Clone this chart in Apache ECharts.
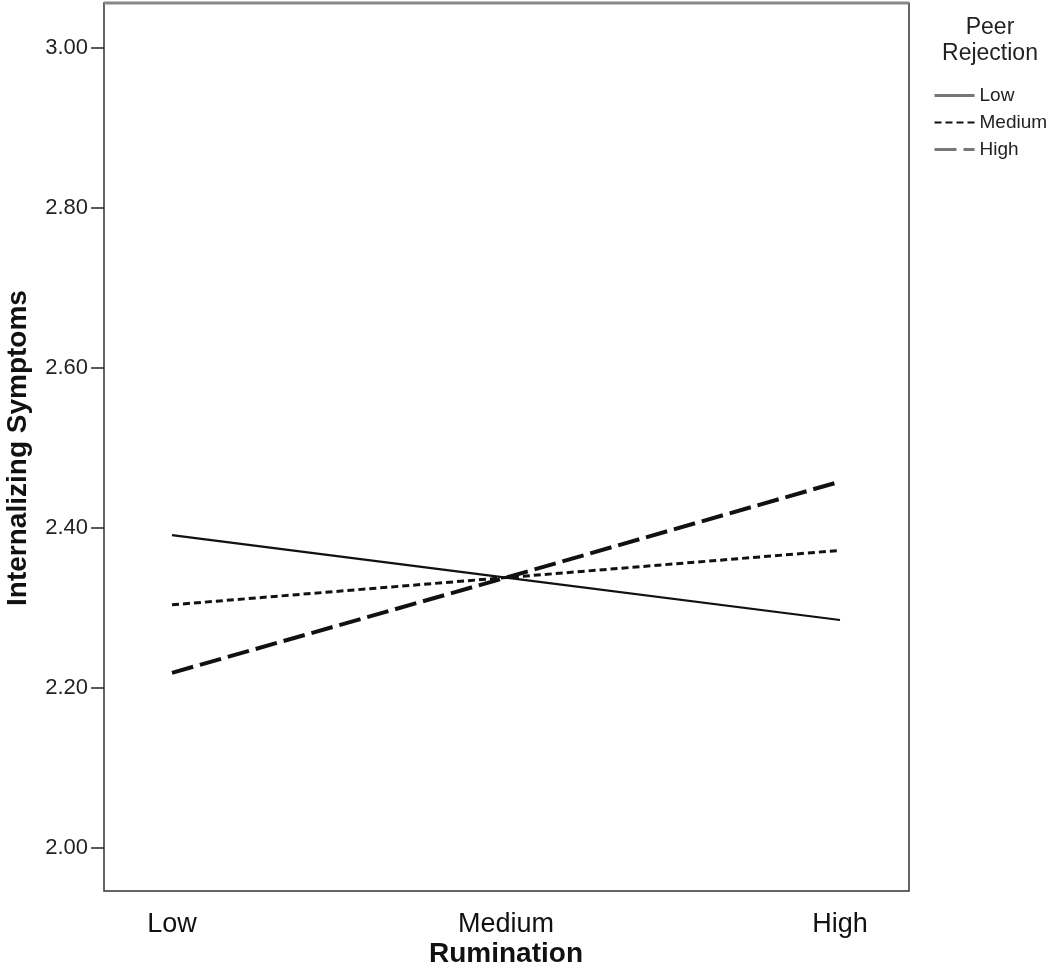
<!DOCTYPE html>
<html><head><meta charset="utf-8">
<script src="https://cdn.jsdelivr.net/npm/echarts@6/dist/echarts.min.js"></script>
<style>html,body{margin:0;padding:0;background:#fff}#c{width:1050px;height:964px}</style>
</head><body><div id="c"></div>
<script>
const categories = ['Low', 'Medium', 'High'];
const yTicks = [2.0, 2.2, 2.4, 2.6, 2.8, 3.0];
const lowPeer = [2.391, 2.338, 2.285];
const mediumPeer = [2.304, 2.338, 2.372];
const highPeer = [2.219, 2.338, 2.458];
const seriesNames = ['Low', 'Medium', 'High'];

const font = 'Liberation Sans, Arial, sans-serif';
const chart = echarts.init(document.getElementById('c'));
chart.setOption({
  animation: false,
  backgroundColor: '#fff',
  grid: [
    {left: 104, right: 141, top: 3, bottom: 73, show: true, borderColor: '#333', borderWidth: 1.5,
     backgroundColor: 'transparent', outerBoundsMode: 'none', containLabel: false},
    {left: 172, right: 210, top: 48, bottom: 116, outerBoundsMode: 'none', containLabel: false}
  ],
  xAxis: [
    {gridIndex: 0, type: 'value', show: false, min: 0, max: 1},
    {gridIndex: 1, type: 'category', data: categories, boundaryGap: false,
     axisLine: {show: false}, axisTick: {show: false}, splitLine: {show: false},
     axisLabel: {margin: 63, fontSize: 27, color: '#111', fontFamily: font},
     name: 'Rumination', nameLocation: 'middle', nameGap: 92, nameMoveOverlap: false,
     nameTextStyle: {fontSize: 28, fontWeight: 'bold', color: '#111', fontFamily: font}}
  ],
  yAxis: [
    {gridIndex: 0, type: 'value', show: false, min: 0, max: 1},
    {gridIndex: 1, type: 'value', min: yTicks[0], max: yTicks[yTicks.length - 1], interval: 0.2,
     offset: 68,
     axisLine: {show: false},
     axisTick: {show: true, length: 13, lineStyle: {color: '#222', width: 1.5}},
     splitLine: {show: false},
     axisLabel: {margin: 16, fontSize: 22, color: '#222', fontFamily: font, formatter: v => v.toFixed(2)},
     name: 'Internalizing Symptoms', nameLocation: 'middle', nameGap: 72, nameMoveOverlap: false,
     nameTextStyle: {fontSize: 28, fontWeight: 'bold', color: '#111', fontFamily: font}}
  ],
  legend: {
    orient: 'vertical', left: 933, top: 86, padding: 0, itemWidth: 40, itemHeight: 14, itemGap: 8,
    textStyle: {fontSize: 19, color: '#222', fontFamily: font},
    itemStyle: {opacity: 0},
    data: [
      {name: seriesNames[0], lineStyle: {color: '#777', width: 3}},
      {name: seriesNames[1], lineStyle: {color: '#111', width: 2}},
      {name: seriesNames[2], lineStyle: {color: '#777', width: 3}}
    ]
  },
  graphic: [
    {type: 'line', shape: {x1: 104, y1: 3, x2: 909, y2: 3}, style: {stroke: '#888', lineWidth: 3}},
    {type: 'text', x: 990, y: 16, style: {text: 'Peer', font: '23px ' + font, fill: '#222', textAlign: 'center'}},
    {type: 'text', x: 990, y: 42, style: {text: 'Rejection', font: '23px ' + font, fill: '#222', textAlign: 'center'}}
  ],
  series: [
    {name: seriesNames[0], type: 'line', xAxisIndex: 1, yAxisIndex: 1, data: lowPeer, symbol: 'none',
     lineStyle: {color: '#111', width: 2.2, type: 'solid'}, itemStyle: {color: '#111'}},
    {name: seriesNames[1], type: 'line', xAxisIndex: 1, yAxisIndex: 1, data: mediumPeer, symbol: 'none',
     lineStyle: {color: '#111', width: 3, type: [7, 4]}, itemStyle: {color: '#111'}},
    {name: seriesNames[2], type: 'line', xAxisIndex: 1, yAxisIndex: 1, data: highPeer, symbol: 'none',
     lineStyle: {color: '#111', width: 4, type: [22, 7]}, itemStyle: {color: '#111'}}
  ]
});
</script></body></html>
